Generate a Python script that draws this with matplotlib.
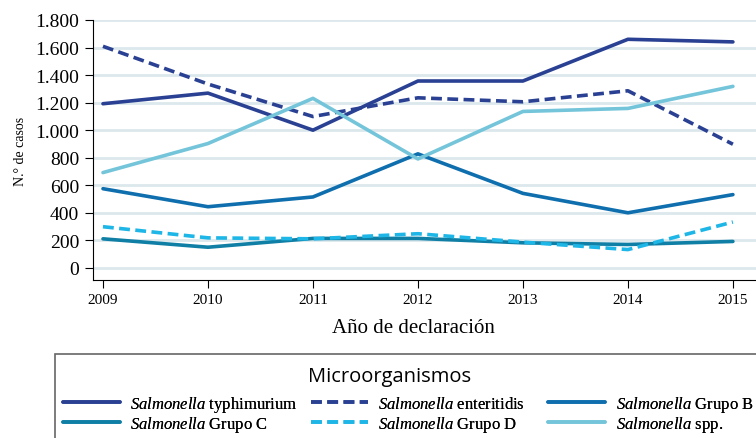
import matplotlib.pyplot as plt
from matplotlib.patches import Rectangle
from matplotlib.ticker import FuncFormatter

plt.rcParams['font.family'] = 'Liberation Serif'
plt.rcParams['mathtext.fontset'] = 'custom'
plt.rcParams['mathtext.rm'] = 'Liberation Serif'
plt.rcParams['mathtext.it'] = 'Liberation Serif:italic'

years = [2009, 2010, 2011, 2012, 2013, 2014, 2015]
typhimurium = [1192, 1269, 1000, 1357, 1357, 1660, 1641]
enteritidis = [1609, 1335, 1099, 1235, 1206, 1286, 898]
grupo_b = [575, 444, 515, 828, 541, 400, 532]
grupo_c = [211, 150, 214, 214, 182, 170, 192]
grupo_d = [299, 218, 211, 248, 187, 133, 333]
spp = [692, 903, 1231, 791, 1136, 1158, 1318]

series = [
    ('typhimurium', typhimurium, '#2a4193', '-'),
    ('enteritidis', enteritidis, '#2a4193', '--'),
    ('Grupo B', grupo_b, '#0f6fae', '-'),
    ('Grupo C', grupo_c, '#107fa5', '-'),
    ('Grupo D', grupo_d, '#1db6e6', '--'),
    ('spp.', spp, '#74c5da', '-'),
]
# order in which lines are painted
draw_order = [2, 3, 4, 1, 0, 5]

fig = plt.figure(figsize=(7.56, 4.39), dpi=100)
ax = fig.add_axes([93 / 756, 1 - 281 / 439, 1 - 93 / 756, (281 - 21) / 439])

handles = {}
for i in draw_order:
    name, vals, color, ls = series[i]
    line, = ax.plot(years, vals, color=color, linestyle=ls, linewidth=2.6,
                    dashes=(3, 1.5) if ls == '--' else (None, None),
                    solid_capstyle='round', label=r'$\it{Salmonella}$ ' + name)
    handles[i] = line

ax.set_xlim(2008.905, 2015.22)
ax.set_ylim(-88, 1800)
ax.set_yticks(range(0, 1801, 200))
ax.yaxis.set_major_formatter(FuncFormatter(lambda v, p: f'{int(v):,}'.replace(',', '.')))
ax.set_xticks(years)
ax.grid(axis='y', color='#dce8ec', linewidth=2)
ax.set_axisbelow(True)
for s in ['top', 'right']:
    ax.spines[s].set_visible(False)
ax.spines['left'].set_bounds(-88, 1800)
ax.tick_params(axis='y', labelsize=14, length=6, width=0.8, pad=4)
ax.tick_params(axis='x', labelsize=11, length=6, width=0.8, pad=3)
ax.set_ylabel('N.° de casos', fontsize=10, labelpad=6)
ax.set_xlabel('Año de declaración', fontsize=15)
ax.xaxis.set_label_coords((413 - 93) / 663, -0.145)

# legend box (runs off the right and bottom edge like the source)
fig.patches.append(Rectangle((55 / 756, -0.05), 0.98, (439 - 355) / 439 + 0.05,
                             transform=fig.transFigure, fill=False,
                             edgecolor='#666666', linewidth=1.2))
fig.text(390 / 756, 1 - 377 / 439, 'Microorganismos', family='Open Sans',
         fontsize=14.5, ha='center', va='center')

# one legend per entry so rows line up: (x of line start, row y, series)
col_x = [63, 311, 548]
row_y = [405, 425]
entries = [[0, 1, 2], [3, 4, 5]]
for r, row in enumerate(entries):
    for c, i in enumerate(row):
        h = handles[i]
        leg = fig.legend([h], [h.get_label()], loc='center left',
                         bbox_to_anchor=(col_x[c] / 756, 1 - row_y[r] / 439), frameon=False,
                         fontsize=12, handlelength=3.4, handletextpad=0.65,
                         borderaxespad=0, borderpad=0)
        fig.add_artist(leg)

fig.savefig('out.png', dpi=100)
